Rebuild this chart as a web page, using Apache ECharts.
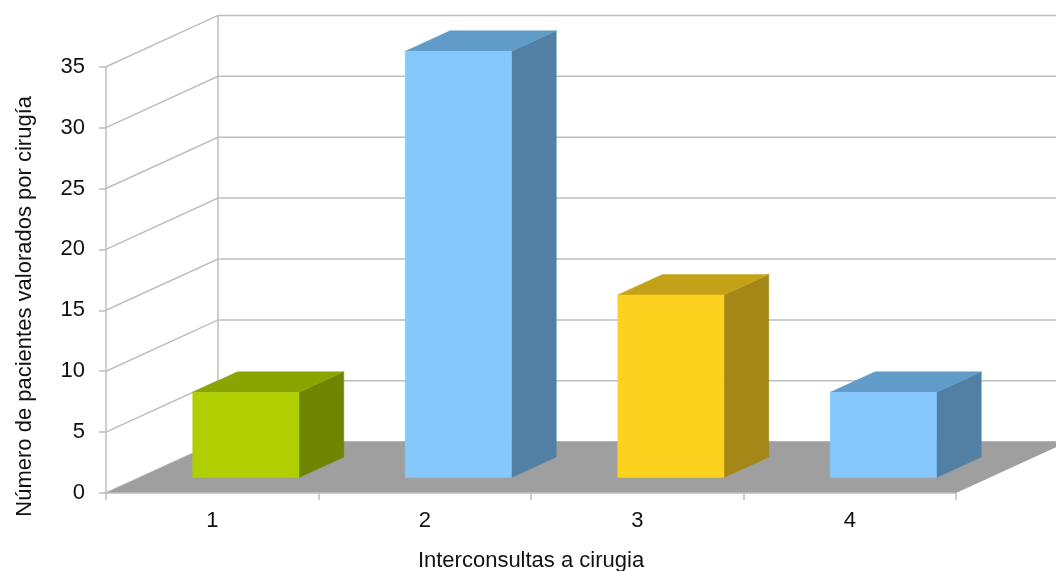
<!DOCTYPE html>
<html>
<head>
<meta charset="utf-8">
<script src="https://cdn.jsdelivr.net/npm/echarts@6/dist/echarts.min.js"></script>
<style>
  html, body { margin: 0; padding: 0; background: #ffffff; }
  #chart { width: 1056px; height: 571px; }
</style>
</head>
<body>
<div id="chart"></div>
<script>
// Patients reviewed per surgery, by number of surgical consultations
const categories = ['1', '2', '3', '4'];
const values = [7, 35, 15, 7];
const yTicks = [0, 5, 10, 15, 20, 25, 30, 35];

// Face shades (front, top, side) for each column
const faceColors = [
  { front: '#B0CE00', top: '#8BA400', side: '#6F8500' },
  { front: '#84C8FE', top: '#619BC8', side: '#5280A5' },
  { front: '#FDD21F', top: '#C4A218', side: '#A38817' },
  { front: '#84C8FE', top: '#619BC8', side: '#5280A5' }
];

// Oblique projection of the floor depth (screen px per full depth)
const DEPTH_DX = 112;
const DEPTH_DY = -51.3;
const BAR_FRONT = 0.3;   // column starts at this fraction of the depth
const BAR_BACK = 0.7;    // and ends here
const BAR_WIDTH = 0.5;   // fraction of a category band

const GRID_COLOR = '#BEBEBE';
const TEXT_COLOR = '#111111';
const FONT = 'Liberation Sans, Arial, sans-serif';

const chart = echarts.init(document.getElementById('chart'), null, { renderer: 'canvas' });

// Back wall: gridlines running from the front axis diagonally to the wall, then across it
function renderWall(params, api) {
  const cs = params.coordSys;
  const v = api.value(1);
  const y = api.coord([0, v])[1];
  const left = cs.x, right = cs.x + cs.width;
  const children = [
    { type: 'polyline', shape: { points: [[left, y], [left + DEPTH_DX, y + DEPTH_DY], [right + DEPTH_DX, y + DEPTH_DY]] },
      style: { stroke: GRID_COLOR, lineWidth: 1.5, fill: null } }
  ];
  if (params.dataIndex === 0) {
    const yTop = api.coord([0, yTicks[yTicks.length - 1]])[1];
    children.push({ type: 'line',
      shape: { x1: left + DEPTH_DX, y1: y + DEPTH_DY, x2: left + DEPTH_DX, y2: yTop + DEPTH_DY },
      style: { stroke: GRID_COLOR, lineWidth: 1.5 } });
  }
  return { type: 'group', children: children };
}

// Floor: grey parallelogram at value 0
function renderFloor(params, api) {
  const cs = params.coordSys;
  const y = api.coord([0, 0])[1];
  const left = cs.x, right = cs.x + cs.width;
  return {
    type: 'polygon',
    shape: { points: [[left, y], [right, y], [right + DEPTH_DX, y + DEPTH_DY], [left + DEPTH_DX, y + DEPTH_DY]] },
    style: { fill: '#9F9F9F' }
  };
}

// 3D column: front, top and right side faces
function renderColumn(params, api) {
  const idx = api.value(0);
  const v = api.value(1);
  const base = api.coord([idx, 0]);
  const topPt = api.coord([idx, v]);
  const w = api.size([1, 0])[0] * BAR_WIDTH;
  const fx = DEPTH_DX * BAR_FRONT, fy = DEPTH_DY * BAR_FRONT;
  const dx = DEPTH_DX * (BAR_BACK - BAR_FRONT), dy = DEPTH_DY * (BAR_BACK - BAR_FRONT);
  const x0 = base[0] + fx - w / 2, x1 = base[0] + fx + w / 2;
  const yb = base[1] + fy, yt = topPt[1] + fy;
  const c = faceColors[params.dataIndex % faceColors.length];
  return {
    type: 'group',
    children: [
      { type: 'polygon', shape: { points: [[x1, yb], [x1, yt], [x1 + dx, yt + dy], [x1 + dx, yb + dy]] },
        style: { fill: c.side, stroke: c.side, lineWidth: 0.5 } },
      { type: 'polygon', shape: { points: [[x0, yt], [x1, yt], [x1 + dx, yt + dy], [x0 + dx, yt + dy]] },
        style: { fill: c.top, stroke: c.top, lineWidth: 0.5 } },
      { type: 'rect', shape: { x: x0, y: yt, width: w, height: yb - yt },
        style: { fill: c.front, stroke: c.front, lineWidth: 0.5 } }
    ]
  };
}

chart.setOption({
  animation: false,
  backgroundColor: '#ffffff',
  grid: {
    left: 106, right: 100, top: 66.7, bottom: 78,
    containLabel: false,
    outerBoundsMode: 'none'
  },
  xAxis: {
    type: 'category',
    data: categories,
    boundaryGap: true,
    name: 'Interconsultas a cirugia',
    nameLocation: 'middle',
    nameGap: 57,
    nameTextStyle: { fontFamily: FONT, fontSize: 22, color: TEXT_COLOR },
    axisLine: { show: true, lineStyle: { color: GRID_COLOR, width: 1.5 } },
    axisTick: { show: true, length: 7, alignWithLabel: false, lineStyle: { color: GRID_COLOR, width: 1.5 } },
    axisLabel: { margin: 17, fontFamily: FONT, fontSize: 22, color: TEXT_COLOR },
    splitLine: { show: false },
    z: 5
  },
  yAxis: {
    type: 'value',
    min: 0, max: 35, interval: 5,
    name: 'Número de pacientes valorados por cirugía',
    nameLocation: 'middle',
    nameRotate: 90,
    nameGap: 70,
    nameTextStyle: { fontFamily: FONT, fontSize: 22, color: TEXT_COLOR, padding: [0, 53, 0, 0] },
    axisLine: { show: true, lineStyle: { color: GRID_COLOR, width: 1.5 } },
    axisTick: { show: true, length: 7, lineStyle: { color: GRID_COLOR, width: 1.5 } },
    axisLabel: { margin: 21, fontFamily: FONT, fontSize: 22, color: TEXT_COLOR },
    splitLine: { show: false }
  },
  series: [
    {
      type: 'custom', name: 'wall', z: 1, silent: true,
      renderItem: renderWall,
      data: yTicks.map(function (t) { return [0, t]; })
    },
    {
      type: 'custom', name: 'floor', z: 2, silent: true,
      renderItem: renderFloor,
      data: [[0, 0]]
    },
    {
      type: 'custom', name: 'columns', z: 3,
      renderItem: renderColumn,
      data: values.map(function (v, i) { return [i, v]; })
    }
  ]
});
</script>
</body>
</html>
